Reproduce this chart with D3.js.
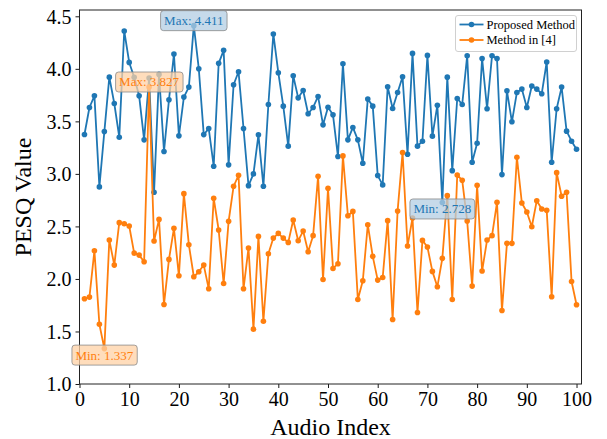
<!DOCTYPE html>
<html>
<head>
<meta charset="utf-8">
<script src="https://cdn.jsdelivr.net/npm/d3@7"></script>
<style>
    body { margin: 0; background: #fff; }
    text { font-family: "Liberation Serif", "Times New Roman", serif; }
</style>
</head>
<body>
<div id="pesq-chart"></div>
<script>
// audio index 1..100
var vIndex = d3.range(1, 101);

// PESQ of the proposed method
var vProposed = [
    3.375, 3.632, 3.743, 2.876, 3.403, 3.921, 3.670, 3.349, 4.360, 4.061,
    3.920, 3.743, 3.324, 3.912, 2.825, 3.947, 3.213, 3.705, 4.141, 3.362,
    3.731, 3.826, 4.411, 4.001, 3.374, 3.432, 3.073, 4.052, 4.176, 3.086,
    3.848, 3.972, 3.432, 2.888, 3.000, 3.372, 2.882, 3.661, 4.332, 3.963,
    3.645, 3.264, 3.934, 3.724, 3.794, 3.572, 3.632, 3.737, 3.467, 3.635,
    3.562, 3.165, 4.049, 3.324, 3.442, 3.324, 3.101, 3.712, 3.645, 2.984,
    2.895, 3.829, 3.623, 3.775, 3.925, 3.187, 4.147, 3.264, 3.311, 4.128,
    3.359, 3.654, 2.728, 3.921, 3.031, 3.718, 3.661, 4.125, 3.111, 3.292,
    4.099, 3.620, 4.125, 4.099, 2.993, 3.791, 3.496, 3.775, 3.807, 3.632,
    3.836, 3.807, 3.763, 4.065, 3.111, 3.620, 3.826, 3.407, 3.311, 3.235
];

// PESQ of the method in [4]
var vReference = [
    1.811, 1.827, 2.269, 1.569, 1.337, 2.370, 2.132, 2.536, 2.526, 2.504,
    2.246, 2.227, 2.164, 3.827, 2.361, 2.567, 1.757, 2.186, 2.482, 2.030,
    2.812, 2.326, 2.021, 2.068, 2.132, 1.906, 2.768, 2.466, 1.957, 2.548,
    2.882, 2.987, 1.906, 2.294, 1.522, 2.405, 1.598, 2.240, 2.389, 2.434,
    2.389, 2.348, 2.561, 2.364, 2.456, 2.259, 2.412, 2.977, 1.995, 2.863,
    2.100, 2.145, 3.171, 2.602, 2.643, 1.805, 1.983, 2.516, 2.215, 1.989,
    2.014, 2.555, 1.614, 2.646, 3.203, 2.313, 2.580, 1.680, 2.367, 2.304,
    2.072, 1.925, 2.196, 2.793, 1.805, 2.990, 2.939, 2.551, 1.932, 2.892,
    2.075, 2.370, 2.412, 2.729, 1.700, 2.339, 2.339, 3.159, 2.723, 2.637,
    2.497, 2.745, 2.666, 2.653, 1.830, 3.012, 2.787, 2.825, 1.976, 1.754
];

var vSeriesNames = ["Proposed Method", "Method in [4]"];
var vXTicks = [0, 10, 20, 30, 40, 50, 60, 70, 80, 90, 100];
var vYTicks = [1.0, 1.5, 2.0, 2.5, 3.0, 3.5, 4.0, 4.5];

// set the dimensions and margins of the graph
var vMargin = { mTop: 10, mRight: 25.5, mBottom: 55, mLeft: 79.5 },
    vWidth = 607 - vMargin.mLeft - vMargin.mRight,
    vHeight = 439 - vMargin.mTop - vMargin.mBottom;

var vColors = ["#1f77b4", "#ff7f0e"];
var vBoxFill = ["#b3cde3", "#ffd2a6"];
var vFont = "'Liberation Serif', 'Times New Roman', serif";

var svg = d3.select("#pesq-chart")
    .append("svg")
    .attr("width", 607)
    .attr("height", 439)
    .append("g")
    .attr("transform", "translate(" + vMargin.mLeft + "," + vMargin.mTop + ")");

var vX = d3.scaleLinear().domain([0, 101]).range([0, vWidth]);
var vY = d3.scaleLinear().domain([1.0, 4.56]).range([vHeight, 0]);

// axes
var vXAxis = svg.append("g")
    .attr("transform", "translate(0," + vHeight + ")")
    .call(d3.axisBottom(vX).tickValues(vXTicks).tickSize(4).tickPadding(4).tickFormat(d3.format("d")));
var vYAxis = svg.append("g")
    .call(d3.axisLeft(vY).tickValues(vYTicks).tickSize(4).tickPadding(4).tickFormat(d3.format(".1f")));

[vXAxis, vYAxis].forEach(function (aAxis) {
    aAxis.attr("font-family", vFont).attr("font-size", 20);
    aAxis.select(".domain").remove();
    aAxis.selectAll("line").attr("stroke", "#000").attr("stroke-width", 0.9);
    aAxis.selectAll("text")
        .attr("fill", "#000")
        .style("font-family", vFont)
        .style("font-size", "20px");
});
vYAxis.selectAll("text").attr("dy", "0.34em");

// frame
svg.append("rect")
    .attr("width", vWidth)
    .attr("height", vHeight)
    .attr("fill", "none")
    .attr("stroke", "#222")
    .attr("stroke-width", 1);

// axis titles
svg.append("text")
    .attr("x", vWidth / 2)
    .attr("y", vHeight + 51)
    .attr("text-anchor", "middle")
    .style("font-size", "24px")
    .text("Audio Index");

svg.append("text")
    .attr("transform", "translate(" + (-49) + "," + (vHeight / 2) + ")rotate(-90)")
    .attr("text-anchor", "middle")
    .style("font-size", "24px")
    .text("PESQ Value");

// lines and markers
var vLine = d3.line()
    .x(function (aItem) { return vX(aItem[0]); })
    .y(function (aItem) { return vY(aItem[1]); });

var vSeries = [vProposed, vReference];
vSeries.forEach(function (aValues, aIdx) {
    var vPoints = vIndex.map(function (aI, aK) { return [aI, aValues[aK]]; });
    svg.append("path")
        .datum(vPoints)
        .attr("fill", "none")
        .attr("stroke", vColors[aIdx])
        .attr("stroke-width", 1.8)
        .attr("stroke-linejoin", "round")
        .attr("d", vLine);
    svg.selectAll(null)
        .data(vPoints)
        .enter()
        .append("circle")
        .attr("cx", function (aItem) { return vX(aItem[0]); })
        .attr("cy", function (aItem) { return vY(aItem[1]); })
        .attr("r", 2.8)
        .attr("fill", vColors[aIdx]);
});

// max / min annotations
function annotate(aIdx, aI, aValue, aLabel, aDy) {
    var vCx = vX(aI), vCy = vY(aValue) + aDy;
    var vG = svg.append("g");
    var vText = vG.append("text")
        .attr("x", vCx)
        .attr("y", vCy)
        .attr("dy", "0.34em")
        .attr("text-anchor", "middle")
        .attr("fill", vColors[aIdx])
        .style("font-size", "13px")
        .text(aLabel);
    var vBox = vText.node().getBBox();
    vG.insert("rect", "text")
        .attr("x", vBox.x - 3.5)
        .attr("y", vCy - 10)
        .attr("width", vBox.width + 7)
        .attr("height", 20)
        .attr("rx", 3)
        .attr("fill", vBoxFill[aIdx])
        .attr("fill-opacity", 0.75)
        .attr("stroke", "#8a8a8a")
        .attr("stroke-opacity", 0.8)
        .attr("stroke-width", 1);
}

vSeries.forEach(function (aValues, aIdx) {
    var vMax = d3.max(aValues), vMin = d3.min(aValues);
    var vMaxI = vIndex[aValues.indexOf(vMax)], vMinI = vIndex[aValues.indexOf(vMin)];
    annotate(aIdx, vMaxI, vMax, "Max: " + d3.format(".3f")(vMax), -5);
    annotate(aIdx, vMinI, vMin, "Min: " + d3.format(".3f")(vMin), 6.5);
});

// legend
var vLegend = svg.append("g")
    .attr("transform", "translate(" + (vWidth - 126) + ",5.5)");
vLegend.append("rect")
    .attr("width", 121)
    .attr("height", 36)
    .attr("rx", 2.5)
    .attr("fill", "#fff")
    .attr("fill-opacity", 0.8)
    .attr("stroke", "#d0d0d0");
vSeriesNames.forEach(function (aName, aIdx) {
    var vRowY = 9 + aIdx * 15.5;
    vLegend.append("line")
        .attr("x1", 4).attr("x2", 28)
        .attr("y1", vRowY).attr("y2", vRowY)
        .attr("stroke", vColors[aIdx])
        .attr("stroke-width", 1.8);
    vLegend.append("circle")
        .attr("cx", 16).attr("cy", vRowY).attr("r", 2.8)
        .attr("fill", vColors[aIdx]);
    vLegend.append("text")
        .attr("x", 31)
        .attr("y", vRowY)
        .attr("dy", "0.34em")
        .style("font-size", "12.5px")
        .text(aName);
});
</script>
</body>
</html>
